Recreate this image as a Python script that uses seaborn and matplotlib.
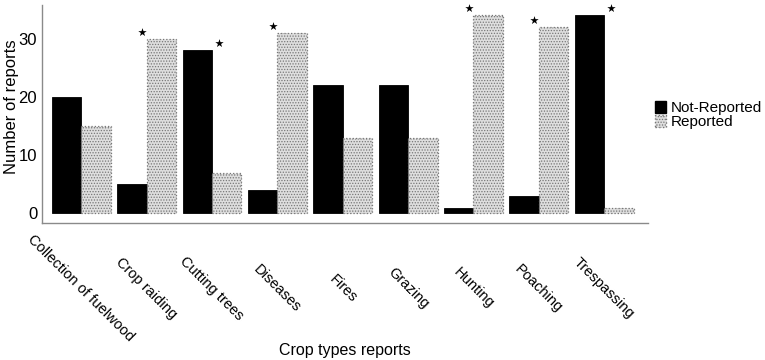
import matplotlib
matplotlib.use("Agg")
import matplotlib.pyplot as plt
import seaborn as sns
import pandas as pd
from matplotlib.patches import Patch

categories = ["Collection of fuelwood", "Crop raiding", "Cutting trees", "Diseases",
              "Fires", "Grazing", "Hunting", "Poaching", "Trespassing"]
not_reported = [20, 5, 28, 4, 22, 22, 1, 3, 34]
reported = [15, 30, 7, 31, 13, 13, 34, 32, 1]
significant = [False, True, True, True, False, False, True, True, True]
series_names = ["Not-Reported", "Reported"]
y_ticks = [0, 10, 20, 30]

sns.set_theme(style="white")
plt.rcParams['font.family'] = ['Liberation Sans', 'DejaVu Sans']
plt.rcParams['hatch.color'] = '#9a9a9a'
plt.rcParams['hatch.linewidth'] = 0.6
for key in ["text.color", "axes.labelcolor", "xtick.color", "ytick.color"]:
    plt.rcParams[key] = "black"

df = pd.DataFrame({
    "category": categories * 2,
    "count": not_reported + reported,
    "status": [series_names[0]] * len(categories) + [series_names[1]] * len(categories),
})

fig = plt.figure(figsize=(7.65, 3.6), dpi=100)
ax = fig.add_axes([42 / 765, 1 - 223 / 360, (648 - 42) / 765, (223 - 5) / 360])

sns.barplot(data=df, x="category", y="count", hue="status", order=categories,
            hue_order=series_names, palette=["#000000", "#dedede"], width=0.9,
            gap=0, saturation=1, ax=ax, legend=False)

n = len(categories)
for i, p in enumerate(ax.patches[:2 * n]):
    if i < n:
        p.set_edgecolor("#000000")
        p.set_linewidth(0.6)
    else:
        p.set_hatch("......")
        p.set_edgecolor("#777777")
        p.set_linestyle(":")
        p.set_linewidth(0.9)

# significance stars
star_x, star_y = [], []
for i, sig in enumerate(significant):
    if sig:
        top = max(not_reported[i], reported[i])
        dx = -0.07 if reported[i] > not_reported[i] else 0.1
        star_x.append(i + dx)
        star_y.append(top + 1.2)
ax.scatter(star_x, star_y, marker="*", s=40, color="black", linewidths=0, clip_on=False, zorder=5)

ax.set_ylim(-1.65, 35.8)
ax.set_xlim(-0.6, n - 1 + 0.67)
ax.set_yticks(y_ticks)
ax.set_yticklabels([str(t) for t in y_ticks], fontsize=12)
ax.set_xticks(range(n))
ax.set_xticklabels(categories, rotation=-45, ha="center", va="center", fontsize=10.5)
ax.tick_params(axis="x", length=0, pad=47)
ax.tick_params(axis="y", length=0, pad=3.5)

ax.set_xlabel("Crop types reports", fontsize=11.5, va="center")
ax.xaxis.set_label_coords(0.5, (223 - 350) / 218)
ax.set_ylabel("Number of reports", fontsize=12, va="center")
ax.yaxis.set_label_coords((12 - 42) / 606, (223 - 107) / 218)

for s in ["top", "right"]:
    ax.spines[s].set_visible(False)
for s in ["left", "bottom"]:
    ax.spines[s].set_color("#8a8a8a")
    ax.spines[s].set_linewidth(1.0)

handles = [Patch(facecolor="#000000", edgecolor="#000000"),
           Patch(facecolor="#dedede", edgecolor="#777777", hatch="......", linestyle=":")]
fig.legend(handles, series_names, loc="upper left", bbox_to_anchor=(655 / 765, 1 - 101 / 360),
           frameon=False, fontsize=11, handlelength=0.7, handleheight=0.8,
           handletextpad=0.35, labelspacing=-0.02, borderaxespad=0, borderpad=0)

fig.savefig("out.png", dpi=100)
